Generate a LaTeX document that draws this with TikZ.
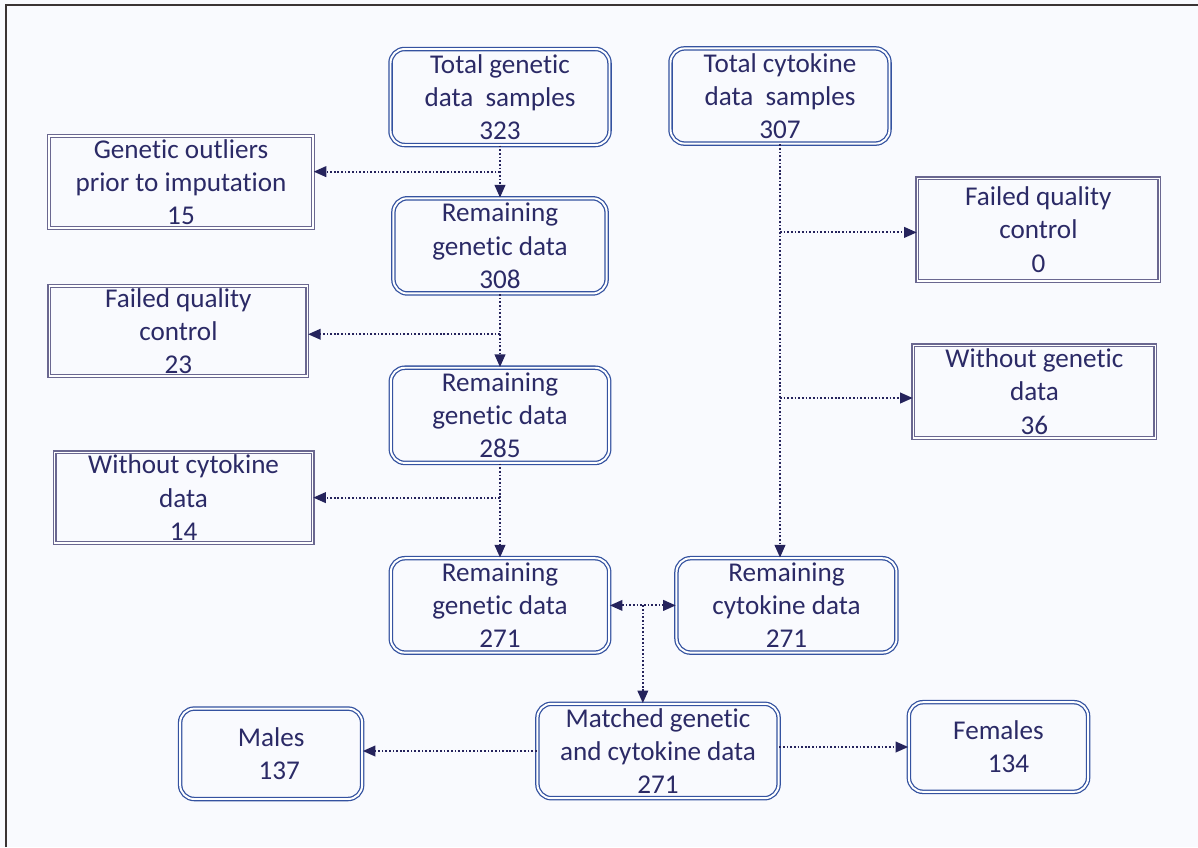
\documentclass[tikz,border=0pt]{standalone}
\usepackage{fontspec}
\setmainfont{Carlito}[Ligatures=NoCommon]
\usetikzlibrary{positioning, arrows.meta, calc}
\definecolor{textnavy}{HTML}{2B2A66}
\definecolor{boxblue}{HTML}{3452A0}
\definecolor{boxgray}{HTML}{6A6790}
\definecolor{arrownavy}{HTML}{25235C}
\definecolor{pagebg}{HTML}{F9FAFE}
\definecolor{framegray}{HTML}{3A3434}

\begin{document}
\begin{tikzpicture}[
    font=\fontsize{19.3}{23.6}\selectfont,
    text=textnavy,
    % Rounded data boxes (double blue line)
    databox/.style={
        draw=boxblue, line width=0.9pt, double=white, double distance=1.4pt,
        rectangle, rounded corners=10pt,
        align=center, inner sep=0pt
    },
    % Excluded samples (double gray line)
    dropbox/.style={
        draw=boxgray, line width=0.9pt, double=white, double distance=1pt,
        rectangle, align=center, inner sep=0pt
    },
    % Dotted arrows
    flow/.style={
        draw=arrownavy, line width=1.5pt, dash pattern=on 1.2pt off 1.4pt,
        -{Triangle[length=9pt, width=7.5pt]}
    }
]

% Page background and frame
\useasboundingbox[fill=pagebg] (0,0) rectangle (29.95,-21.175);
\draw[framegray, line width=1.4pt] (0.15,-21.175) -- (0.15,-0.125) -- (29.95,-0.125);

% Genetic column
\node[databox, minimum width=5.475cm, minimum height=2.4cm] (tg) at (12.5,-2.425)
    {Total genetic\\data~ samples\\323};
\node[databox, minimum width=5.33cm, minimum height=2.38cm, below=1.3cm of tg] (rg1)
    {Remaining\\genetic data\\308};
\node[databox, minimum width=5.46cm, minimum height=2.38cm, below=1.825cm of rg1] (rg2)
    {Remaining\\genetic data\\285};
\node[databox, minimum width=5.46cm, minimum height=2.36cm, below=2.35cm of rg2] (rg3)
    {Remaining\\genetic data\\271};

% Cytokine column
\node[databox, minimum width=5.475cm, minimum height=2.38cm] (ct) at (19.5,-2.4)
    {Total cytokine\\data~ samples\\307};
\node[databox, minimum width=5.5cm, minimum height=2.36cm, right=1.65cm of rg3] (rc)
    {Remaining\\cytokine data\\271};

% Excluded samples
\node[dropbox, minimum width=6.6cm, minimum height=2.3cm] (outl) at (4.525,-4.55)
    {Genetic outliers\\prior to imputation\\15};
\node[dropbox, minimum width=6.45cm, minimum height=2.25cm] (fq1) at (4.46,-8.275)
    {Failed quality\\control\\23};
\node[dropbox, minimum width=6.45cm, minimum height=2.27cm] (wc) at (4.59,-12.44)
    {Without cytokine\\data\\14};
\node[dropbox, minimum width=6.05cm, minimum height=2.57cm] (fq2) at (25.96,-5.74)
    {Failed quality\\control\\0};
\node[dropbox, minimum width=6.05cm, minimum height=2.32cm] (wg) at (25.86,-9.79)
    {Without genetic\\data\\36};

% Matched data and split by sex
\node[databox, minimum width=6.03cm, minimum height=2.36cm] (mt) at (16.45,-18.775)
    {Matched genetic\\and cytokine data\\271};
\node[databox, minimum width=4.55cm, minimum height=2.26cm, left=4.35cm of mt, yshift=-0.07cm] (ml)
    {Males\\\hspace*{0.4cm}137};
\node[databox, minimum width=4.48cm, minimum height=2.24cm, right=3.225cm of mt, yshift=0.1cm] (fm)
    {Females\\\hspace*{0.5cm}134};

% Junctions
\coordinate (j1) at ($(tg.south)!0.5!(rg1.north)$);
\coordinate (j2) at ($(rg1.south)!0.55!(rg2.north)$);
\coordinate (j3) at (rg2.south |- wc.east);
\coordinate (k1) at ([yshift=-0.07cm]ct.south |- fq2.west);
\coordinate (k2) at ([yshift=-0.16cm]ct.south |- wg.west);
\coordinate (m) at ($(rg3.east)!0.5!(rc.west)$);

% Genetic flow
\draw[flow] (tg) -- (rg1);
\draw[flow] (rg1) -- (rg2);
\draw[flow] (rg2) -- (rg3);
\draw[flow] (j1) -- (j1 -| outl.east);
\draw[flow] (j2) -- (j2 -| fq1.east);
\draw[flow] (j3) -- (j3 -| wc.east);

% Cytokine flow
\draw[flow] (ct.south) -- (ct.south |- rc.north);
\draw[flow] (k1) -- (k1 -| fq2.west);
\draw[flow] (k2) -- (k2 -| wg.west);

% Matching
\draw[flow, {Triangle[length=9pt, width=7.5pt]}-{Triangle[length=9pt, width=7.5pt]}] (rg3.east) -- (rc.west);
\draw[flow] (m) -- (m |- mt.north);
\draw[flow] (mt.west) -- (mt.west -| ml.east);
\draw[flow] ([yshift=0.1cm]mt.east) -- ([yshift=0.1cm]mt.east -| fm.west);

\end{tikzpicture}
\end{document}
